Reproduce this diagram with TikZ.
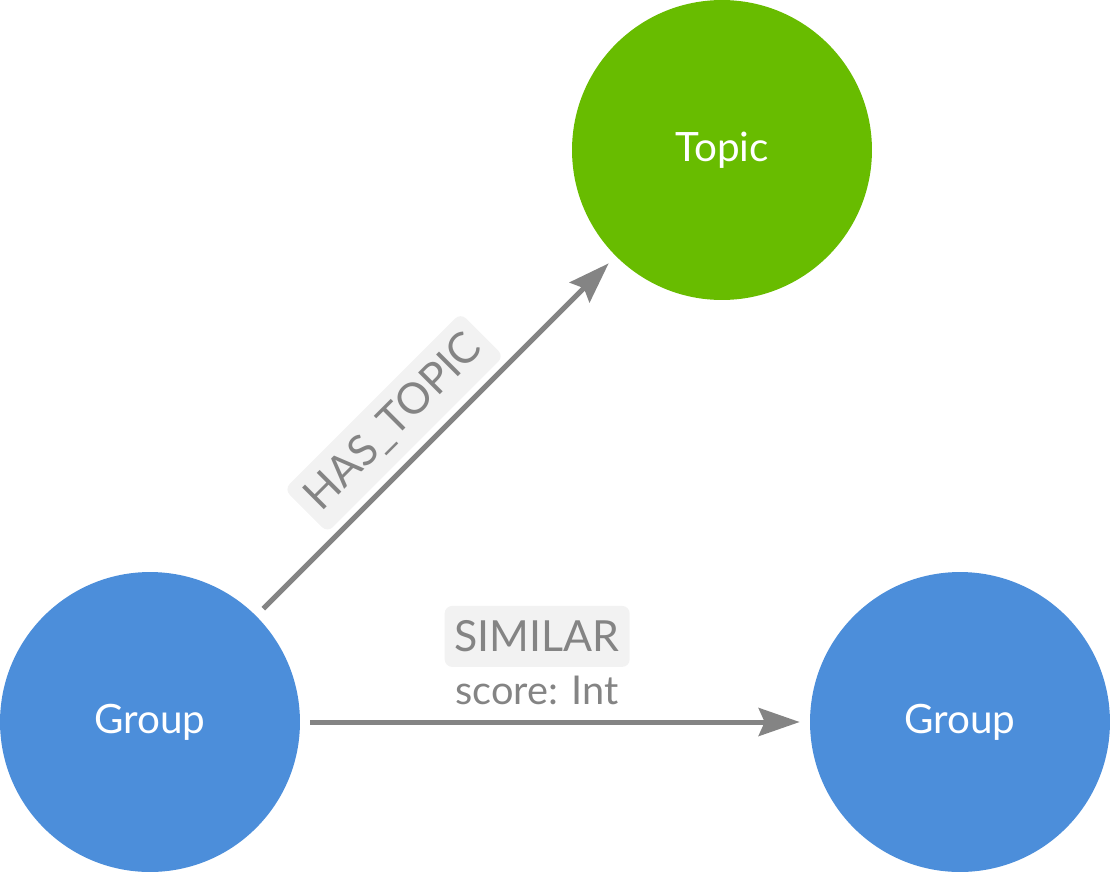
\documentclass[tikz,border=0pt]{standalone}
\usepackage{fontspec}
\setmainfont{Lato}
\usepackage{tikz}
\usetikzlibrary{arrows.meta,positioning}
\definecolor{groupblue}{HTML}{4C8EDA}
\definecolor{topicgreen}{HTML}{68BC00}
\definecolor{relgray}{HTML}{848484}
\definecolor{labelbg}{HTML}{F2F2F2}

\begin{document}
\begin{tikzpicture}[x=0.02cm,y=-0.02cm,
    entity/.style={circle,minimum size=6cm,inner sep=0pt,text=white,font=\fontsize{23}{27}\selectfont},
    rel/.style={line width=0.1cm,relgray,-{Stealth[length=0.82cm,width=0.56cm,inset=0.12cm]},shorten <=0.2cm,shorten >=0.2cm},
    reltype/.style={fill=labelbg,rounded corners=0.15cm,text=relgray,inner xsep=0.2cm,minimum height=1.22cm,font=\fontsize{24.4}{28}\selectfont},
    relprop/.style={text=relgray,inner sep=0pt,font=\fontsize{22.6}{26}\selectfont}]
    \useasboundingbox (0,0) rectangle (1110,873);
    \node[entity,fill=topicgreen] (topic) at (722,150) {Topic};
    \node[entity,fill=groupblue] (group) at (150,722) {Group};
    \node[entity,fill=groupblue] (other) at (960,722) {Group};
    % relationships
    \draw[rel] (group) -- (topic) node[reltype,pos=0.46,sloped,above=0.12cm] (hastopic) {HAS\_TOPIC};
    \draw[rel] (group) -- (other) node[relprop,pos=0.465,above=0.3cm] (score) {score: Int};
    \node[reltype,above=0.12cm of score] (similar) {SIMILAR};
\end{tikzpicture}
\end{document}
